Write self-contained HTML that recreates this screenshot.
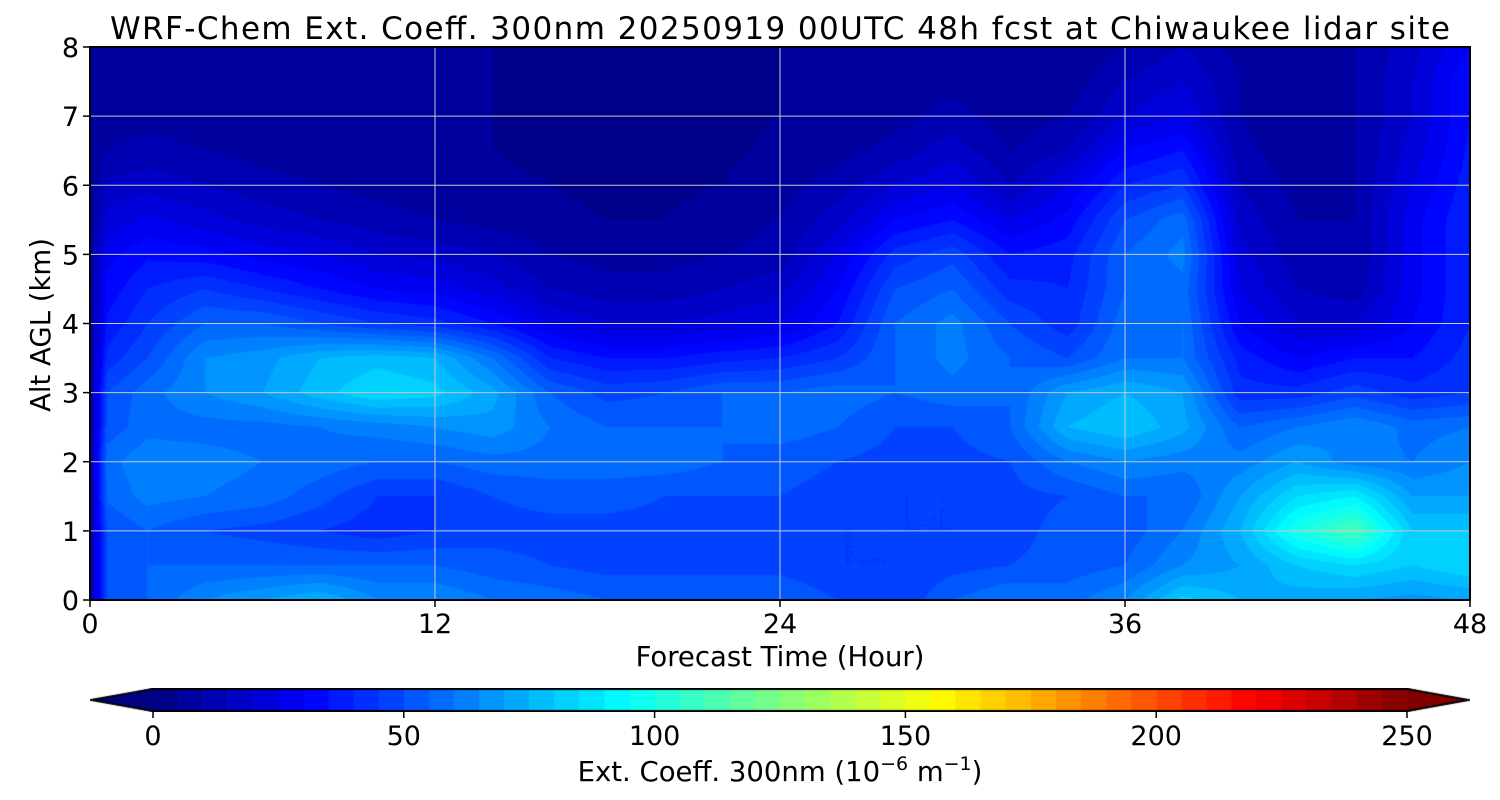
<!DOCTYPE html>
<html><head><meta charset="utf-8"><style>
body{margin:0;background:#fff;width:1500px;height:800px;overflow:hidden;position:relative;font-family:"DejaVu Sans","Liberation Sans",sans-serif}
canvas{position:absolute}
svg{position:absolute;left:0;top:0}
</style></head><body>
<canvas id="hm" width="1380" height="553" style="left:90px;top:47px"></canvas>
<canvas id="cb" width="1380" height="24" style="left:90px;top:688px"></canvas>
<svg id="ov" width="1500" height="800"></svg>
<script>
const hours=[0,0.6,2,4,6,8,10,12,14,16,18,20,22,24,26,28,30,32,34,36,38,40,42,44,46,48];
const alts=[0,0.5,1,1.5,2,2.5,3,3.5,4,4.5,5,5.5,6,6.5,7,7.5,8];
const values=[
[10,10,10,10,10,8,8,8,8,8,8,6,5,5,5,5,5],
[50,50,50,56,58,52,50,42,36,32,28,22,16,10,8,6,5],
[55,55,55,62,64,58,58,50,45,40,34,26,18,12,8,6,5],
[65,55,50,60,62,58,65,65,55,45,32,22,15,10,7,6,5],
[70,55,48,58,60,58,70,68,55,40,28,18,12,8,6,5,5],
[75,55,45,52,58,60,78,75,50,35,25,15,10,7,5,5,5],
[65,55,42,45,55,62,85,78,45,30,20,12,8,6,5,5,5],
[65,55,45,45,55,65,82,75,42,28,18,10,7,5,5,5,5],
[60,52,48,50,58,68,72,60,35,22,15,8,6,5,5,5,5],
[58,50,48,52,58,60,55,40,25,15,10,6,5,4,4,4,4],
[55,48,48,52,58,55,48,35,20,12,8,5,4,3,3,3,3],
[55,48,48,50,58,55,50,35,20,12,8,5,4,3,3,3,3],
[55,48,48,50,55,55,55,38,22,15,10,7,5,4,4,4,4],
[55,48,48,50,52,58,55,40,25,18,12,10,8,6,5,5,5],
[50,45,45,48,50,55,58,45,35,30,25,18,12,8,6,5,5],
[45,45,45,45,48,50,55,55,55,50,42,30,20,12,8,6,5],
[55,48,45,45,48,50,58,62,62,55,48,35,25,18,12,8,6],
[60,50,48,48,50,55,55,55,50,42,35,25,15,10,7,5,5],
[58,52,52,50,60,75,70,50,42,40,38,32,25,15,10,7,5],
[65,55,52,55,65,80,75,60,58,55,55,50,40,30,20,15,10],
[82,65,60,55,62,72,70,60,60,58,62,58,45,35,25,20,15],
[75,70,75,70,62,55,42,38,30,25,22,18,15,12,10,10,8],
[72,80,100,85,70,60,42,30,20,15,12,10,8,6,5,5,5],
[70,85,112,90,62,65,48,35,20,12,10,10,10,10,10,10,10],
[68,80,80,70,60,58,42,35,30,28,28,28,25,22,20,20,18],
[70,85,80,70,65,60,45,42,40,40,40,40,38,36,35,35,30]];
const xTicks=[0,12,24,36,48];
const yTicks=[0,1,2,3,4,5,6,7,8];
const cbTicks=[0,50,100,150,200,250];
const VMAX=250, STEP=5;
const PX=90,PY=47,PW=1380,PH=553;
const xs=h=>PX+h/48*PW, ys=a=>PY+PH-a/8*PH;
function jet(t){t=Math.max(0,Math.min(1,t));
 const f=v=>Math.round(255*Math.max(0,Math.min(1,v)));
 return [f(1.5-Math.abs(4*t-3)),f(1.5-Math.abs(4*t-2)),f(1.5-Math.abs(4*t-1))];}
(function(){const c=document.getElementById('hm').getContext('2d');const im=c.createImageData(PW,PH);
 for(let py=0;py<PH;py++){const a=(PH-py-0.5)/PH*8;let j=Math.min(alts.length-2,Math.floor(a/0.5));let fy=(a-alts[j])/(alts[j+1]-alts[j]);
  for(let px=0;px<PW;px++){const h=(px+0.5)/PW*48;let i=0;while(i<hours.length-2&&hours[i+1]<=h)i++;let fx=(h-hours[i])/(hours[i+1]-hours[i]);
   const v=values[i][j]*(1-fx)*(1-fy)+values[i+1][j]*fx*(1-fy)+values[i][j+1]*(1-fx)*fy+values[i+1][j+1]*fx*fy;
   const q=(Math.floor(v/STEP)+0.5)*STEP;const col=jet(q/VMAX);const k=(py*PW+px)*4;
   im.data[k]=col[0];im.data[k+1]=col[1];im.data[k+2]=col[2];im.data[k+3]=255;}}
 c.putImageData(im,0,0);})();
(function(){const c=document.getElementById('cb').getContext('2d');const x0=63,w=1254,H=24;
 const n=VMAX/STEP;for(let s=0;s<n;s++){const col=jet((s+0.5)/n);c.fillStyle=`rgb(${col})`;c.fillRect(x0+s*w/n,0,w/n+0.6,H);}
 let col=jet(0);c.fillStyle=`rgb(${col})`;c.beginPath();c.moveTo(0,H/2);c.lineTo(x0,0);c.lineTo(x0,H);c.fill();
 col=jet(1);c.fillStyle=`rgb(${col})`;c.beginPath();c.moveTo(1380,H/2);c.lineTo(x0+w,0);c.lineTo(x0+w,H);c.fill();
 c.strokeStyle='#000';c.lineWidth=2;c.beginPath();c.moveTo(1,H/2);c.lineTo(x0,1);c.lineTo(x0+w,1);c.lineTo(1379,H/2);c.lineTo(x0+w,H-1);c.lineTo(x0,H-1);c.closePath();c.stroke();})();
const svg=document.getElementById('ov');const NS='http://www.w3.org/2000/svg';
function el(t,a,txt){const e=document.createElementNS(NS,t);for(const k in a)e.setAttribute(k,a[k]);if(txt!==undefined)e.textContent=txt;svg.appendChild(e);return e;}
xTicks.forEach(t=>{const x=xs(t);
 const g=el('line',{x1:x,x2:x,y1:PY,y2:PY+PH,stroke:'#c8c8c8','stroke-width':1});
 
 
 el('line',{x1:x,x2:x,y1:PY+PH,y2:PY+PH+7,stroke:'#000','stroke-width':1.5});
 const l=el('text',{x:x,y:633,'text-anchor':'middle','font-size':27},t);
 
 });
yTicks.forEach(t=>{const y=ys(t);
 const g=el('line',{x1:PX,x2:PX+PW,y1:y,y2:y,stroke:'#c8c8c8','stroke-width':1});
 
 
 el('line',{x1:PX-7,x2:PX,y1:y,y2:y,stroke:'#000','stroke-width':1.5});
 const l=el('text',{x:79,y:y+10,'text-anchor':'end','font-size':27},t);
 
 });
el('rect',{x:PX,y:PY,width:PW,height:PH,fill:'none',stroke:'#000','stroke-width':2,});
cbTicks.forEach(t=>{const x=153+t/VMAX*1254;
 el('line',{x1:x,x2:x,y1:711,y2:718,stroke:'#000','stroke-width':1.5});
 const l=el('text',{x:x,y:745,'text-anchor':'middle','font-size':27},t);
 
 });
el('text',{x:780,y:39,'text-anchor':'middle','font-size':31,'textLength':1340,},'WRF-Chem Ext. Coeff. 300nm  20250919 00UTC 48h fcst at Chiwaukee lidar site');
el('text',{x:780,y:666,'text-anchor':'middle','font-size':27.5,},'Forecast Time (Hour)');
el('text',{x:0,y:0,'text-anchor':'middle','font-size':27.5,transform:'translate(50,325) rotate(-90)',},'Alt AGL (km)');
const cl=el('text',{x:780,y:781,'text-anchor':'middle','font-size':27.5,});
cl.innerHTML='Ext. Coeff. 300nm  (10<tspan dy="-11" font-size="19">−6</tspan><tspan dy="11"> m</tspan><tspan dy="-11" font-size="19">−1</tspan><tspan dy="11">)</tspan>';
</script>
</body></html>
